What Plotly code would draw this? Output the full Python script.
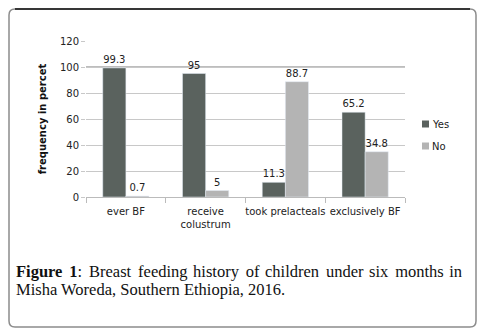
import plotly.graph_objects as go

categories = ["ever BF", "receive<br>colustrum", "took prelacteals", "exclusively BF"]
yes_values = [99.3, 95, 11.3, 65.2]
no_values = [0.7, 5, 88.7, 34.8]
yes_labels = ["99.3", "95", "11.3", "65.2"]
no_labels = ["0.7", "5", "88.7", "34.8"]
series_names = ["Yes", "No"]
series_colors = ["#5a625e", "#b4b4b4"]

W, H = 491, 335
L, R, T, B = 86, 405, 41, 197
pw, ph = R - L, B - T

def px(x):
    return (x - L) / pw

def py(y):
    return (B - y) / ph

font = "DejaVu Sans"
fig = go.Figure()
for name, vals, labs, col in zip(series_names, [yes_values, no_values],
                                 [yes_labels, no_labels], series_colors):
    fig.add_bar(x=categories, y=vals, name=name, marker_color=col,
                text=labs, textposition="outside", cliponaxis=False,
                textfont=dict(size=10, color="#222", family=font))

# darker line at 100
fig.add_shape(type="line", xref="paper", yref="y", x0=0, x1=1, y0=100, y1=100,
              line=dict(color="#7a7a7a", width=1), layer="below")

# outer rounded border
x0, x1, y0, y1 = px(9), px(476), py(9), py(327)
rx, ry = 6 / pw, 6 / ph
path = (f"M {x0+rx},{y0} L {x1-rx},{y0} Q {x1},{y0} {x1},{y0-ry} "
        f"L {x1},{y1+ry} Q {x1},{y1} {x1-rx},{y1} L {x0+rx},{y1} "
        f"Q {x0},{y1} {x0},{y1+ry} L {x0},{y0-ry} Q {x0},{y0} {x0+rx},{y0} Z")
fig.add_shape(type="path", xref="paper", yref="paper", path=path,
              line=dict(color="#8c8c8c", width=1.5))
fig.add_shape(type="line", xref="paper", yref="paper", x0=x0 + rx, x1=x1 - rx,
              y0=y0, y1=y0, line=dict(color="#111", width=1.5))

# legend (manual)
for i, (name, col) in enumerate(zip(series_names, series_colors)):
    cy = 124 + 22 * i
    fig.add_shape(type="rect", xref="paper", yref="paper",
                  x0=px(422), x1=px(429), y0=py(cy - 3.5), y1=py(cy + 3.5),
                  fillcolor=col, line=dict(width=0))
    fig.add_annotation(xref="paper", yref="paper", x=px(430), y=py(cy),
                       xanchor="left", yanchor="middle", showarrow=False,
                       text=name, font=dict(family=font, size=10, color="#222"))

# justified-looking first caption line
hs = "\u200a"
words = "Breast feeding history of children under six months in".split(" ")
body = ""
for i, w in enumerate(words):
    body += w
    if i < len(words) - 1:
        body += hs + hs + " " if i % 2 == 0 else hs + " "
line1 = "<b>Figure" + hs + hs + " 1</b>:" + hs + hs + " " + body
fig.add_annotation(xref="paper", yref="paper", x=px(14), y=py(271),
                   xanchor="left", yanchor="middle", showarrow=False, align="left",
                   text=line1, font=dict(family="Liberation Serif", size=16.5, color="#111"))
fig.add_annotation(xref="paper", yref="paper", x=px(14), y=py(289),
                   xanchor="left", yanchor="middle", showarrow=False, align="left",
                   text="Misha Woreda, Southern Ethiopia, 2016.",
                   font=dict(family="Liberation Serif", size=16.5, color="#111"))

fig.update_layout(
    width=W, height=H,
    margin=dict(l=L, r=W - R, t=T, b=H - B),
    paper_bgcolor="white", plot_bgcolor="white",
    barmode="group", bargap=0.42, bargroupgap=0,
    showlegend=False,
    font=dict(family=font, size=10, color="#222"),
)
fig.update_yaxes(range=[0, 120], dtick=20, showgrid=True, gridcolor="#c8c8c8",
                 gridwidth=1, zeroline=False, showline=False,
                 tickfont=dict(size=10, color="#222"), ticks="outside", ticklen=4,
                 tickcolor="#c8c8c8",
                 title=dict(text="<b>frequency in percet</b>", font=dict(size=10, color="#111"),
                            standoff=11))
fig.update_xaxes(showline=True, linecolor="#bbbbbb", ticks="outside", ticklen=5,
                 tickcolor="#bbbbbb", tickson="boundaries", ticklabelstandoff=5,
                 tickfont=dict(size=10, color="#222"), tickangle=0)

fig.write_html("out.html", config={"displayModeBar": False},
               post_script="document.body.style.margin='0';")
